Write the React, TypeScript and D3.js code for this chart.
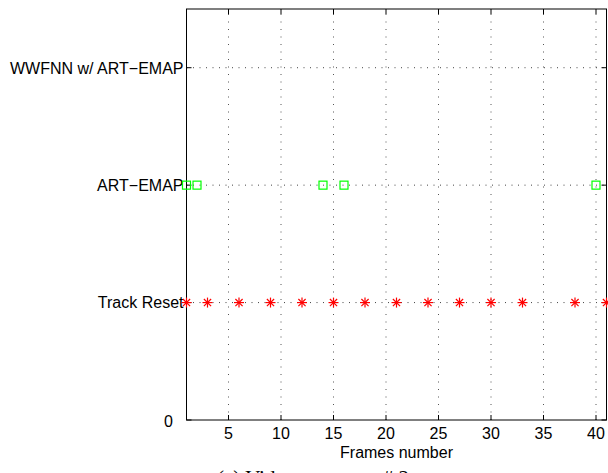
import React from "react";
import * as d3 from "d3";

// Frames where each event fires
const trackResetFrames = [1, 3, 6, 9, 12, 15, 18, 21, 24, 27, 30, 33, 38, 41];
const artEmapFrames = [1, 2, 14, 16, 40];
const wwfnnFrames: number[] = [];

// Axis ticks
const xTicks = [5, 10, 15, 20, 25, 30, 35, 40];
const yTicks = [0, 1, 2, 3];
const yTickLabels = ["0", "Track Reset", "ART\u2212EMAP", "WWFNN w/ ART\u2212EMAP"];

const xLabel = "Frames number";
const caption = "(c) Video sequence # 2";

const W = 608;
const H = 473;
const left = 186.5;
const right = 606.5;
const top = 9;
const bottom = 420;

export default function App() {
  const x = d3.scaleLinear().domain([1, 41]).range([left, right]);
  const y = d3.scaleLinear().domain([0, 3.5]).range([bottom, top]);
  const font = "'Liberation Sans', Arial, Helvetica, sans-serif";
  const tickLen = 5;
  const gridV = { stroke: "#555", strokeWidth: 1, strokeDasharray: "1,6.5" };
  const gridH = { stroke: "#444", strokeWidth: 1, strokeDasharray: "1,5.5" };

  const asterisk = (cx: number, cy: number, key: string) => {
    const r = 5;
    const d = r * 0.72;
    return (
      <g key={key} stroke="#ff0000" strokeWidth={1.2}>
        <line x1={cx - r} y1={cy} x2={cx + r} y2={cy} />
        <line x1={cx} y1={cy - r} x2={cx} y2={cy + r} />
        <line x1={cx - d} y1={cy - d} x2={cx + d} y2={cy + d} />
        <line x1={cx - d} y1={cy + d} x2={cx + d} y2={cy - d} />
      </g>
    );
  };

  return (
    <svg
      width={W}
      height={H}
      style={{ position: "absolute", left: 0, top: 0, background: "#fff" }}
    >
      <rect x={0} y={0} width={W} height={H} fill="#fff" />
      {/* grid */}
      {xTicks.map((t) => (
        <line key={"gx" + t} x1={x(t)} x2={x(t)} y1={bottom} y2={top} style={gridV} />
      ))}
      {yTicks
        .filter((t) => t > 0)
        .map((t) => (
          <line key={"gy" + t} x1={left} x2={right} y1={y(t)} y2={y(t)} style={gridH} />
        ))}
      {/* axes box */}
      <rect
        x={left}
        y={top}
        width={right - left}
        height={bottom - top}
        fill="none"
        stroke="#000"
        strokeWidth={1}
      />
      {/* x ticks */}
      {xTicks.map((t) => (
        <g key={"xt" + t}>
          <line x1={x(t)} x2={x(t)} y1={bottom} y2={bottom - tickLen} stroke="#000" />
          <line x1={x(t)} x2={x(t)} y1={top} y2={top + tickLen} stroke="#000" />
          <text
            x={x(t)}
            y={439}
            textAnchor="middle"
            fontFamily={font}
            fontSize={16}
            fill="#000"
          >
            {t}
          </text>
        </g>
      ))}
      {/* y ticks */}
      {yTicks.map((t, i) => (
        <g key={"yt" + t}>
          <line x1={left} x2={left + tickLen} y1={y(t)} y2={y(t)} stroke="#000" />
          <line x1={right} x2={right - tickLen} y1={y(t)} y2={y(t)} stroke="#000" />
          <text
            x={t === 0 ? 173 : 183.5}
            y={y(t) + (t === 0 ? 6.5 : 5.8)}
            textAnchor="end"
            fontFamily={font}
            fontSize={16}
            fill="#000"
          >
            {yTickLabels[i]}
          </text>
        </g>
      ))}
      {/* markers */}
      {trackResetFrames.map((f, i) => asterisk(x(f), y(1), "tr" + i))}
      {artEmapFrames.map((f, i) => (
        <rect
          key={"ae" + i}
          x={x(f) - 4}
          y={y(2) - 4}
          width={8}
          height={8}
          fill="none"
          stroke="#00ff00"
          strokeWidth={1.2}
        />
      ))}
      {wwfnnFrames.map((f, i) => (
        <circle key={"ww" + i} cx={x(f)} cy={y(3)} r={4} fill="none" stroke="#0000ff" />
      ))}
      {/* labels */}
      <text
        x={(left + right) / 2}
        y={458}
        textAnchor="middle"
        fontFamily={font}
        fontSize={16}
        fill="#000"
      >
        {xLabel}
      </text>
      <text
        x={313}
        y={485}
        textAnchor="middle"
        fontFamily="'Liberation Serif', 'Times New Roman', serif"
        fontSize={21}
        fill="#000"
      >
        {caption}
      </text>
    </svg>
  );
}
